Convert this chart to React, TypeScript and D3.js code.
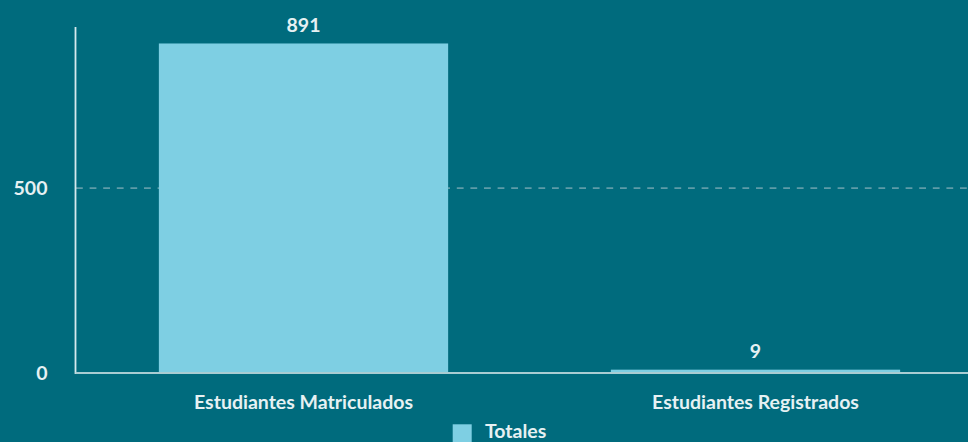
import React from "react";
import * as d3 from "d3";

const categories = ["Estudiantes Matriculados", "Estudiantes Registrados"];
const values = [891, 9];
const yTicks = [0, 500];
const seriesName = "Totales";

const W = 968;
const H = 442;
const BG = "#006b7d";
const BAR = "#7ecfe3";
const TEXT = "#e6f1f3";

export default function App() {
  const left = 77.5;
  const right = 981.5;
  const top = 27;
  const bottom = 373;
  const x = d3.scaleBand<string>().domain(categories).range([left, right]).padding(0);
  const y = d3.scaleLinear().domain([0, d3.max(values)! * 1.05]).range([bottom, top]);
  const bw = x.bandwidth() * 0.64;
  const font = "Lato, 'Noto Sans', sans-serif";
  const fs = 19.5;
  return (
    <svg width={W} height={H} style={{ position: "absolute", left: 0, top: 0, display: "block" }}>
      <rect x={0} y={0} width={W} height={H} fill={BG} />
      {yTicks.filter((t) => t !== 0).map((t) => (
        <line key={"g" + t} x1={76} x2={W} y1={y(t)} y2={y(t)} stroke="#5e9ca8" strokeWidth={1.6} strokeDasharray="6.8,6.8" />
      ))}
      {categories.map((c, i) => {
        const cx = x(c)! + x.bandwidth() / 2;
        return (
          <g key={c}>
            <rect x={cx - bw / 2} y={y(values[i])} width={bw} height={bottom - y(values[i])} fill={BAR} />
            <text x={cx} y={y(values[i]) - 11.5} textAnchor="middle" fill={TEXT} fontFamily={font} fontWeight={700} fontSize={fs}>
              {values[i]}
            </text>
            <text x={cx} y={409} textAnchor="middle" fill={TEXT} fontFamily={font} fontWeight={700} fontSize={fs}>
              {c}
            </text>
          </g>
        );
      })}
      <line x1={75.5} x2={75.5} y1={top} y2={bottom + 1} stroke="#d5e9ed" strokeWidth={1.8} />
      <line x1={75.5} x2={W} y1={bottom} y2={bottom} stroke="#a9cdd3" strokeWidth={2} />
      {yTicks.map((t) => (
        <text key={"t" + t} x={47.5} y={y(t)} dy="0.36em" textAnchor="end" fill={TEXT} fontFamily={font} fontWeight={700} fontSize={fs}>
          {t}
        </text>
      ))}
      <rect x={452.7} y={424.3} width={19} height={19} fill={BAR} />
      <text x={485} y={438} fill={TEXT} fontFamily={font} fontWeight={700} fontSize={fs}>
        {seriesName}
      </text>
    </svg>
  );
}
